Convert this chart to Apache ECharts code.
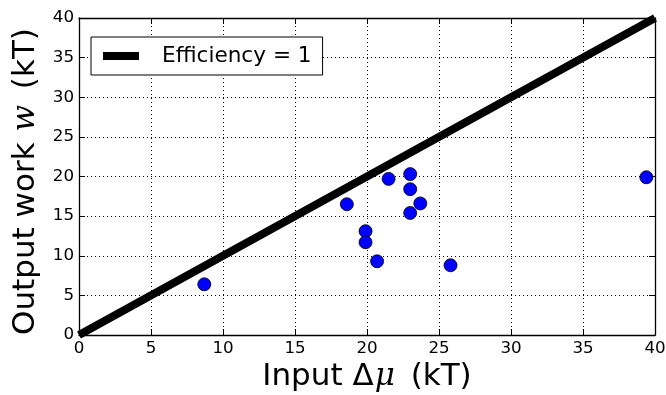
<!DOCTYPE html>
<html>
<head>
<meta charset="utf-8">
<script src="https://cdn.jsdelivr.net/npm/echarts@6/dist/echarts.min.js"></script>
<style>
  html, body { margin: 0; padding: 0; background: #fff; }
  #chart { width: 666px; height: 395px; }
</style>
</head>
<body>
<div id="chart"></div>
<script>
// measured points (input Δμ, output work w), both in kT
const inputMu = [8.7, 18.6, 19.9, 19.9, 20.7, 21.5, 23.0, 23.0, 23.0, 23.7, 25.8, 39.4]
const outputW = [6.4, 16.5, 13.1, 11.7, 9.3, 19.7, 20.3, 18.4, 15.4, 16.6, 8.8, 19.9]
const efficiencyLine = [[0, 0], [40, 40]]
const tickMin = 0
const tickMax = 40
const tickStep = 5

const font = 'DejaVu Sans'
const mathFont = 'DejaVu Serif'
const points = inputMu.map((x, i) => [x, outputW[i]])

const chart = echarts.init(document.getElementById('chart'))

const gridLine = {
  show: true,
  lineStyle: { color: '#000', width: 1, type: [1, 3] }
}

function mainAxis(position) {
  return {
    type: 'value',
    position: position,
    min: tickMin,
    max: tickMax,
    interval: tickStep,
    axisLine: { show: true, onZero: false, lineStyle: { color: '#000', width: 1.3 } },
    axisTick: { show: true, inside: true, length: 6, lineStyle: { color: '#000', width: 1 } },
    axisLabel: { color: '#000', fontFamily: font, fontSize: 16.7, margin: 5 },
    splitLine: gridLine
  }
}

function mirrorAxis(position) {
  return {
    type: 'value',
    position: position,
    min: tickMin,
    max: tickMax,
    interval: tickStep,
    axisLine: { show: true, onZero: false, lineStyle: { color: '#000', width: 1.3 } },
    axisTick: { show: true, inside: true, length: 6, lineStyle: { color: '#000', width: 1 } },
    axisLabel: { show: false },
    splitLine: { show: false }
  }
}

function titleStyle(pad) {
  return {
    color: '#000', fontFamily: font, fontSize: 31, padding: pad,
    rich: {
      it: { fontStyle: 'italic', fontFamily: mathFont, fontSize: 31, color: '#000', padding: [0, 6, 0, 1] }
    }
  }
}

const xMain = mainAxis('bottom')
xMain.name = 'Input Δ{it|μ} (kT)'
xMain.nameLocation = 'middle'
xMain.nameGap = 23
xMain.nameTextStyle = titleStyle([0, 0, 0, 0])

const yMain = mainAxis('left')
yMain.name = 'Output work {it|w} (kT)'
yMain.nameLocation = 'middle'
yMain.nameGap = 34
yMain.nameTextStyle = titleStyle([0, 10, 0, 0])

chart.setOption({
  animation: false,
  backgroundColor: '#fff',
  grid: { left: 79, right: 11, top: 18, bottom: 60, outerBoundsMode: 'none', containLabel: false },
  xAxis: [xMain, mirrorAxis('top')],
  yAxis: [yMain, mirrorAxis('right')],
  legend: {
    left: 91,
    top: 37,
    data: [{ name: 'Efficiency = 1', icon: 'rect' }],
    itemWidth: 36,
    itemHeight: 8,
    padding: [6, 11, 6, 12],
    borderColor: '#000',
    borderWidth: 1,
    borderRadius: 0,
    backgroundColor: '#fff',
    textStyle: { color: '#000', fontFamily: font, fontSize: 21.6, lineHeight: 26, padding: [0, 0, 0, 18] }
  },
  series: [
    {
      name: 'Efficiency = 1',
      type: 'line',
      data: efficiencyLine,
      symbol: 'none',
      clip: true,
      itemStyle: { color: '#000' },
      lineStyle: { color: '#000', width: 8 },
      z: 2
    },
    {
      name: 'data',
      type: 'scatter',
      data: points,
      symbolSize: 13,
      itemStyle: { color: '#0000ff', borderColor: '#000', borderWidth: 0.8, opacity: 1 },
      z: 3
    }
  ]
})
</script>
</body>
</html>
